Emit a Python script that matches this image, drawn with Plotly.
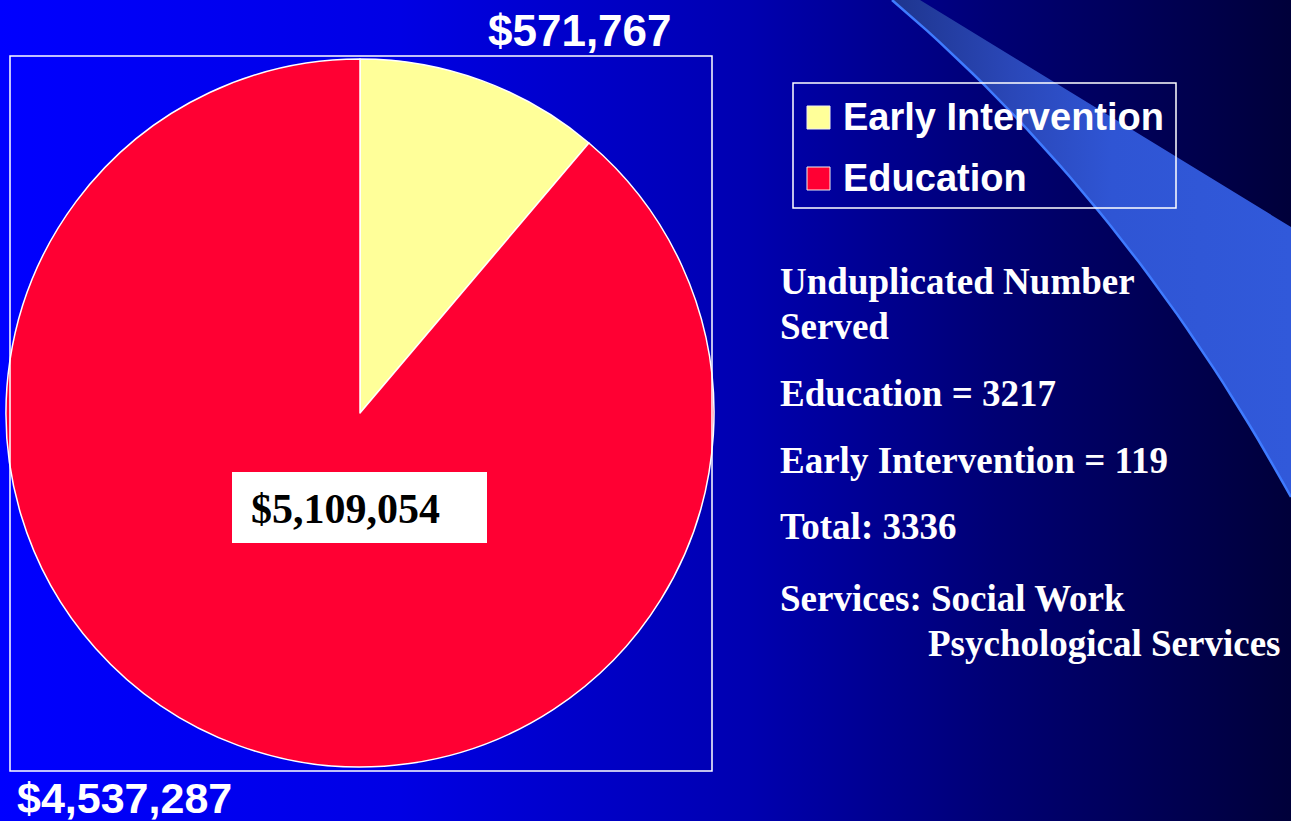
"""Funding split pie on a PowerPoint-style blue slide."""

import plotly.graph_objects as go

W, H = 1291, 821

# data
categories = ["Early Intervention", "Education"]
funding = [571767, 4537287]
slice_colors = ["#FFFF99", "#FF0033"]

served_labels = ["Education", "Early Intervention"]
served_counts = [3217, 119]
services = ["Social Work", "Psychological Services"]

# background gradient stops (fraction of width, colour)
bg_stops = [[0.0, "#0000FF"], [0.31, "#0000E4"], [0.58, "#0000B0"], [0.77, "#000074"], [1.0, "#00003A"]]
swoosh_stops = [[0.0, "#1E358E"], [0.3, "#2A47B8"], [0.55, "#2F55D4"], [1.0, "#3159DA"]]


def money(v):
    return f"${v:,}"


fig = go.Figure()

# slide background as a filled rectangle in pixel space
fig.add_trace(
    go.Scatter(
        x=[0, W, W, 0, 0], y=[0, 0, H, H, 0], mode="lines", fill="toself",
        line=dict(width=0), fillgradient=dict(type="horizontal", colorscale=bg_stops),
        hoverinfo="skip", showlegend=False,
    )
)

# decorative swoosh: curved left edge, straight right edge
curve_x, curve_y = [], []
p0, c, p2 = (892, 0), (1128, 201), (1291, 497)
for i in range(41):
    t = i / 40
    curve_x.append((1 - t) ** 2 * p0[0] + 2 * t * (1 - t) * c[0] + t ** 2 * p2[0])
    curve_y.append((1 - t) ** 2 * p0[1] + 2 * t * (1 - t) * c[1] + t ** 2 * p2[1])
fig.add_trace(
    go.Scatter(
        x=curve_x + [1291, 920, 892], y=curve_y + [227, 0, 0], mode="lines", fill="toself",
        line=dict(width=0), fillgradient=dict(type="horizontal", colorscale=swoosh_stops),
        hoverinfo="skip", showlegend=False,
    )
)
fig.add_trace(
    go.Scatter(x=curve_x, y=curve_y, mode="lines", line=dict(color="#3F7BFF", width=2.5),
               hoverinfo="skip", showlegend=False)
)

fig.add_trace(
    go.Pie(
        labels=categories, values=funding, sort=False, direction="clockwise", rotation=0,
        marker=dict(colors=slice_colors, line=dict(color="white", width=1.5)),
        textinfo="none", hoverinfo="label+value", showlegend=False,
        domain=dict(x=[6 / W, 714 / W], y=[1 - 769 / H, 1 - 57 / H]),
    )
)

shapes = [
    dict(type="rect", x0=10, y0=56, x1=712, y1=771, line=dict(color="white", width=1.5)),
    dict(type="rect", x0=232, y0=472, x1=487, y1=543, fillcolor="white", line=dict(width=0)),
    dict(type="rect", x0=793, y0=83, x1=1176, y1=208, line=dict(color="white", width=1.5)),
]
annotations = []

sans = "Liberation Sans, Arial, sans-serif"
serif = "Liberation Serif, Times New Roman, serif"

# value labels
annotations.append(dict(x=580, y=30, text=f"<b>{money(funding[0])}</b>", xanchor="center",
                        font=dict(family=sans, size=44, color="white")))
annotations.append(dict(x=15, y=798, text=f"<b>{money(funding[1])}</b>", xanchor="left",
                        font=dict(family=sans, size=43, color="white")))
annotations.append(dict(x=249, y=509, text=f"<b>{money(sum(funding))}</b>", xanchor="left",
                        font=dict(family=serif, size=42, color="black")))

# hand-drawn legend
for i, (name, col) in enumerate(zip(categories, slice_colors)):
    top = 106 + 61 * i
    shapes.append(dict(type="rect", x0=807, y0=top, x1=830, y1=top + 23, fillcolor=col,
                       line=dict(color="#F0F0F0", width=1)))
    annotations.append(dict(x=841, y=117 + 61 * i, text=f"<b>{name}</b>", xanchor="left",
                            font=dict(family=sans, size=38, color="white")))

# served counts
lines = [
    ("Unduplicated Number", 778, 281),
    ("Served", 778, 326),
    (f"{served_labels[0]} = {served_counts[0]}", 778, 393),
    (f"{served_labels[1]} = {served_counts[1]}", 778, 460),
    (f"Total: {sum(served_counts)}", 778, 526),
    (f"Services: {services[0]}", 778, 598),
    (services[1], 926, 643),
]
for text, x, y in lines:
    annotations.append(dict(x=x, y=y, text=f"<b>{text}</b>", xanchor="left",
                            font=dict(family=serif, size=37, color="white")))

for a in annotations:
    a.update(xref="x", yref="y", yanchor="middle", showarrow=False)
for s in shapes:
    s.update(xref="x", yref="y")

fig.update_layout(
    width=W, height=H, margin=dict(l=0, r=0, t=0, b=0),
    paper_bgcolor="#0000A0", plot_bgcolor="rgba(0,0,0,0)",
    xaxis=dict(range=[0, W], visible=False, fixedrange=True),
    yaxis=dict(range=[H, 0], visible=False, fixedrange=True),
    shapes=shapes, annotations=annotations, showlegend=False, hovermode=False,
)

# drop the page's default body margin so the slide sits at the window corner
fig.write_html("out.html", post_script="document.body.style.margin='0';",
               config={"displayModeBar": False})
